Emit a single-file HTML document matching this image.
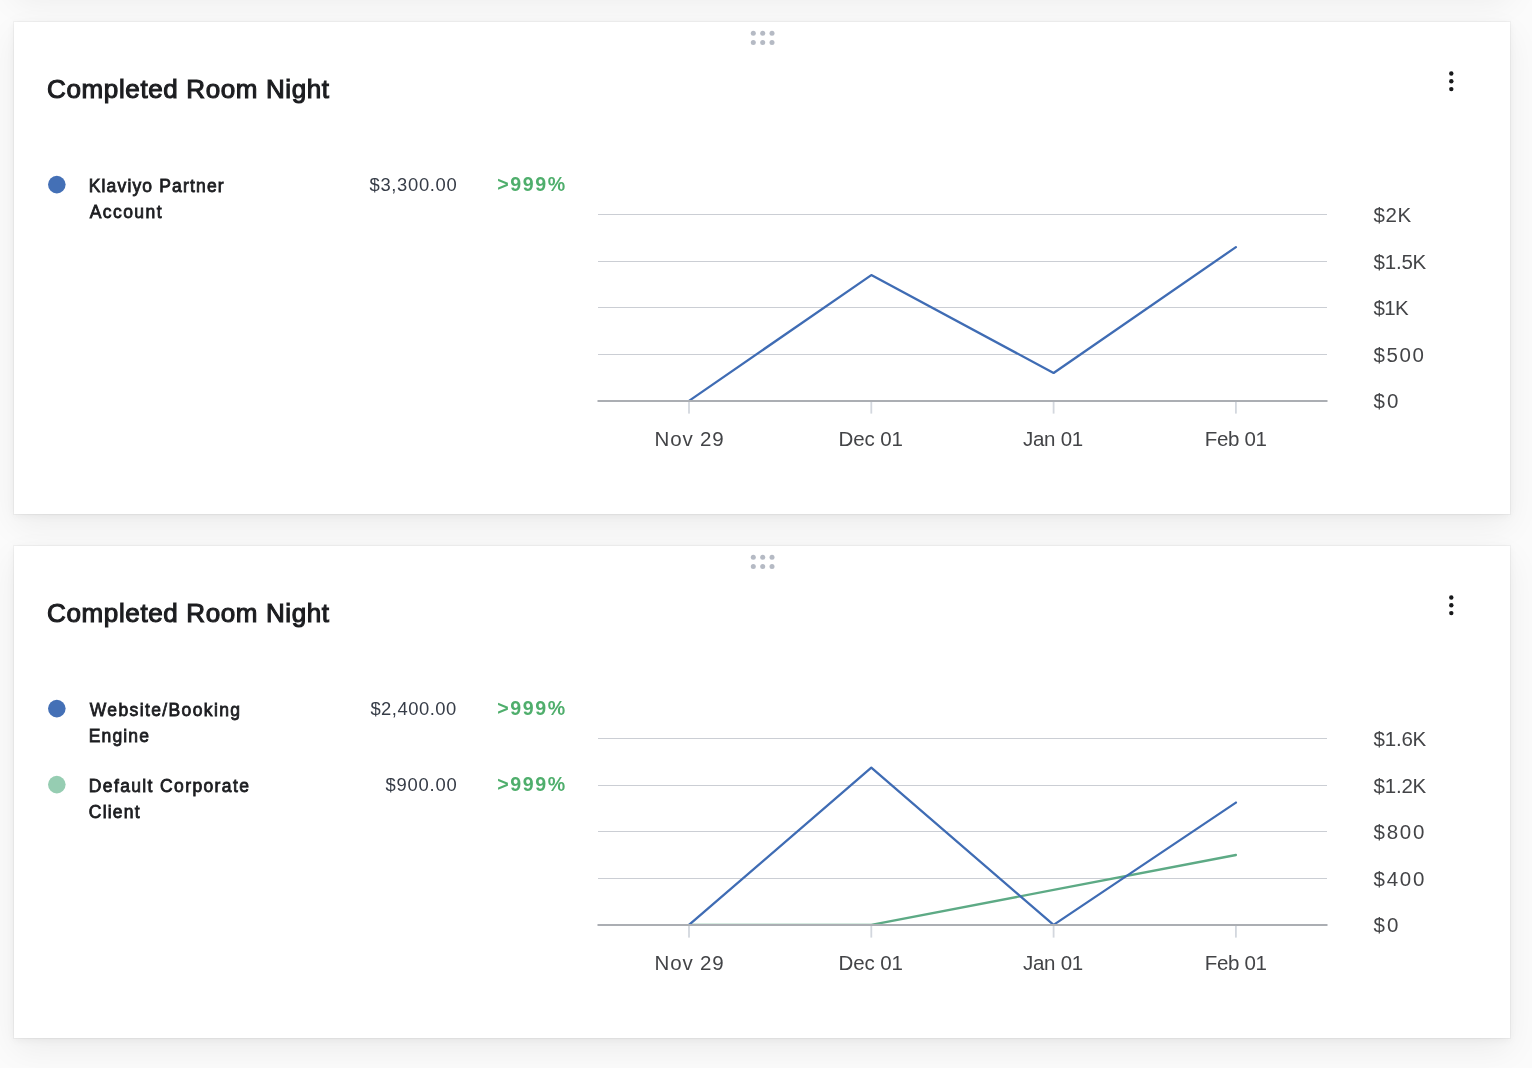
<!DOCTYPE html>
<html><head><meta charset="utf-8"><style>
html,body{margin:0;padding:0;}
body{width:1532px;height:1068px;background:#fbfbfb;position:relative;overflow:hidden;font-family:"Liberation Sans",sans-serif;}
.card{position:absolute;left:14px;width:1496px;height:492px;background:#fff;box-shadow:0 0 0 1px rgba(0,0,0,0.035),0 2px 8px rgba(0,0,0,0.05),0 12px 32px rgba(0,0,0,0.06);}
svg{position:absolute;left:0;top:0;will-change:transform;}
svg text{font-family:"Liberation Sans",sans-serif;}
</style></head><body>
<div class="card" style="top:-502px"></div>
<div class="card" style="top:22px"></div>
<div class="card" style="top:546px"></div>
<svg width="1532" height="1068" viewBox="0 0 1532 1068">
<circle cx="753.3" cy="33.3" r="2.5" fill="#b5bac4"/>
<circle cx="753.3" cy="42.6" r="2.5" fill="#b5bac4"/>
<circle cx="762.7" cy="33.3" r="2.5" fill="#b5bac4"/>
<circle cx="762.7" cy="42.6" r="2.5" fill="#b5bac4"/>
<circle cx="772.0" cy="33.3" r="2.5" fill="#b5bac4"/>
<circle cx="772.0" cy="42.6" r="2.5" fill="#b5bac4"/>
<circle cx="1451.3" cy="73.5" r="2.2" fill="#18191b"/>
<circle cx="1451.3" cy="81.3" r="2.2" fill="#18191b"/>
<circle cx="1451.3" cy="89.1" r="2.2" fill="#18191b"/>
<text x="47.10" y="97.9" font-size="26" fill="#1c1d20" stroke="#1c1d20" stroke-width="1.1" textLength="282.00" lengthAdjust="spacing">Completed Room Night</text>
<circle cx="56.8" cy="184.6" r="8.8" fill="#4470b6"/>
<text x="88.70" y="191.6" font-size="17.5" fill="#1c1d20" stroke="#1c1d20" stroke-width="0.8" textLength="134.90" lengthAdjust="spacing">Klaviyo Partner</text>
<text x="89.70" y="217.7" font-size="17.5" fill="#1c1d20" stroke="#1c1d20" stroke-width="0.8" textLength="71.80" lengthAdjust="spacing">Account</text>
<text x="369.50" y="190.8" font-size="18.4" fill="#363c47" textLength="87.20" lengthAdjust="spacing">$3,300.00</text>
<text x="497.20" y="191" font-size="19.6" fill="#4fae6c" font-weight="700" textLength="68.00" lengthAdjust="spacing">&gt;999%</text>
<rect x="598" y="214" width="729" height="1" fill="#cbced4"/>
<rect x="598" y="261" width="729" height="1" fill="#cbced4"/>
<rect x="598" y="307" width="729" height="1" fill="#cbced4"/>
<rect x="598" y="354" width="729" height="1" fill="#cbced4"/>
<text x="654.50" y="445.8" font-size="20.5" fill="#434447" textLength="69.20" lengthAdjust="spacing">Nov 29</text>
<text x="838.60" y="445.8" font-size="20.5" fill="#434447" textLength="64.30" lengthAdjust="spacing">Dec 01</text>
<text x="1022.90" y="445.8" font-size="20.5" fill="#434447" textLength="60.30" lengthAdjust="spacing">Jan 01</text>
<text x="1204.80" y="445.8" font-size="20.5" fill="#434447" textLength="62.20" lengthAdjust="spacing">Feb 01</text>
<text x="1373.60" y="221.7" font-size="20.5" fill="#434447" textLength="37.70" lengthAdjust="spacing">$2K</text>
<text x="1373.60" y="268.7" font-size="20.5" fill="#434447" textLength="52.70" lengthAdjust="spacing">$1.5K</text>
<text x="1373.60" y="314.8" font-size="20.5" fill="#434447" textLength="35.20" lengthAdjust="spacing">$1K</text>
<text x="1373.60" y="361.7" font-size="20.5" fill="#434447" textLength="50.20" lengthAdjust="spacing">$500</text>
<text x="1373.60" y="408.2" font-size="20.5" fill="#434447" textLength="24.70" lengthAdjust="spacing">$0</text>
<polyline points="689,400.90 871.3,275.08 1053.6,372.94 1235.9,247.12" fill="none" stroke="#3f6cb4" stroke-width="2.3" stroke-linejoin="round" stroke-linecap="round"/>
<rect x="688.1" y="402" width="1.8" height="11.6" fill="#d3d7de"/>
<rect x="870.4" y="402" width="1.8" height="11.6" fill="#d3d7de"/>
<rect x="1052.6999999999998" y="402" width="1.8" height="11.6" fill="#d3d7de"/>
<rect x="1235.0" y="402" width="1.8" height="11.6" fill="#d3d7de"/>
<rect x="597.5" y="400" width="730" height="2" fill="#abaeb3"/>
<circle cx="753.3" cy="557.3" r="2.5" fill="#b5bac4"/>
<circle cx="753.3" cy="566.6" r="2.5" fill="#b5bac4"/>
<circle cx="762.7" cy="557.3" r="2.5" fill="#b5bac4"/>
<circle cx="762.7" cy="566.6" r="2.5" fill="#b5bac4"/>
<circle cx="772.0" cy="557.3" r="2.5" fill="#b5bac4"/>
<circle cx="772.0" cy="566.6" r="2.5" fill="#b5bac4"/>
<circle cx="1451.3" cy="597.5" r="2.2" fill="#18191b"/>
<circle cx="1451.3" cy="605.3" r="2.2" fill="#18191b"/>
<circle cx="1451.3" cy="613.1" r="2.2" fill="#18191b"/>
<text x="47.10" y="621.9" font-size="26" fill="#1c1d20" stroke="#1c1d20" stroke-width="1.1" textLength="282.00" lengthAdjust="spacing">Completed Room Night</text>
<circle cx="56.8" cy="708.6" r="8.8" fill="#4470b6"/>
<text x="89.80" y="715.6" font-size="17.5" fill="#1c1d20" stroke="#1c1d20" stroke-width="0.8" textLength="150.20" lengthAdjust="spacing">Website/Booking</text>
<text x="88.80" y="741.7" font-size="17.5" fill="#1c1d20" stroke="#1c1d20" stroke-width="0.8" textLength="60.10" lengthAdjust="spacing">Engine</text>
<text x="370.40" y="714.8" font-size="18.4" fill="#363c47" textLength="85.80" lengthAdjust="spacing">$2,400.00</text>
<text x="497.20" y="715" font-size="19.6" fill="#4fae6c" font-weight="700" textLength="68.00" lengthAdjust="spacing">&gt;999%</text>
<circle cx="56.8" cy="784.6" r="8.8" fill="#96cdb2"/>
<text x="88.80" y="791.6" font-size="17.5" fill="#1c1d20" stroke="#1c1d20" stroke-width="0.8" textLength="160.10" lengthAdjust="spacing">Default Corporate</text>
<text x="88.80" y="817.7" font-size="17.5" fill="#1c1d20" stroke="#1c1d20" stroke-width="0.8" textLength="50.70" lengthAdjust="spacing">Client</text>
<text x="385.40" y="790.8" font-size="18.4" fill="#363c47" textLength="71.30" lengthAdjust="spacing">$900.00</text>
<text x="497.20" y="791" font-size="19.6" fill="#4fae6c" font-weight="700" textLength="68.00" lengthAdjust="spacing">&gt;999%</text>
<rect x="598" y="738" width="729" height="1" fill="#cbced4"/>
<rect x="598" y="785" width="729" height="1" fill="#cbced4"/>
<rect x="598" y="831" width="729" height="1" fill="#cbced4"/>
<rect x="598" y="878" width="729" height="1" fill="#cbced4"/>
<text x="654.50" y="969.8" font-size="20.5" fill="#434447" textLength="69.20" lengthAdjust="spacing">Nov 29</text>
<text x="838.60" y="969.8" font-size="20.5" fill="#434447" textLength="64.30" lengthAdjust="spacing">Dec 01</text>
<text x="1022.90" y="969.8" font-size="20.5" fill="#434447" textLength="60.30" lengthAdjust="spacing">Jan 01</text>
<text x="1204.80" y="969.8" font-size="20.5" fill="#434447" textLength="62.20" lengthAdjust="spacing">Feb 01</text>
<text x="1373.60" y="745.7" font-size="20.5" fill="#434447" textLength="52.70" lengthAdjust="spacing">$1.6K</text>
<text x="1373.60" y="792.7" font-size="20.5" fill="#434447" textLength="52.70" lengthAdjust="spacing">$1.2K</text>
<text x="1373.60" y="838.8" font-size="20.5" fill="#434447" textLength="50.70" lengthAdjust="spacing">$800</text>
<text x="1373.60" y="885.7" font-size="20.5" fill="#434447" textLength="50.70" lengthAdjust="spacing">$400</text>
<text x="1373.60" y="932.2" font-size="20.5" fill="#434447" textLength="24.70" lengthAdjust="spacing">$0</text>
<polyline points="689,924.90 871.3,924.90 1053.6,889.95 1235.9,855.00" fill="none" stroke="#5daa85" stroke-width="2.3" stroke-linejoin="round" stroke-linecap="round"/>
<polyline points="689,924.90 871.3,767.62 1053.6,924.90 1235.9,802.58" fill="none" stroke="#3f6cb4" stroke-width="2.3" stroke-linejoin="round" stroke-linecap="round"/>
<rect x="688.1" y="926" width="1.8" height="11.6" fill="#d3d7de"/>
<rect x="870.4" y="926" width="1.8" height="11.6" fill="#d3d7de"/>
<rect x="1052.6999999999998" y="926" width="1.8" height="11.6" fill="#d3d7de"/>
<rect x="1235.0" y="926" width="1.8" height="11.6" fill="#d3d7de"/>
<rect x="597.5" y="924" width="730" height="2" fill="#abaeb3"/>
</svg>
</body></html>
